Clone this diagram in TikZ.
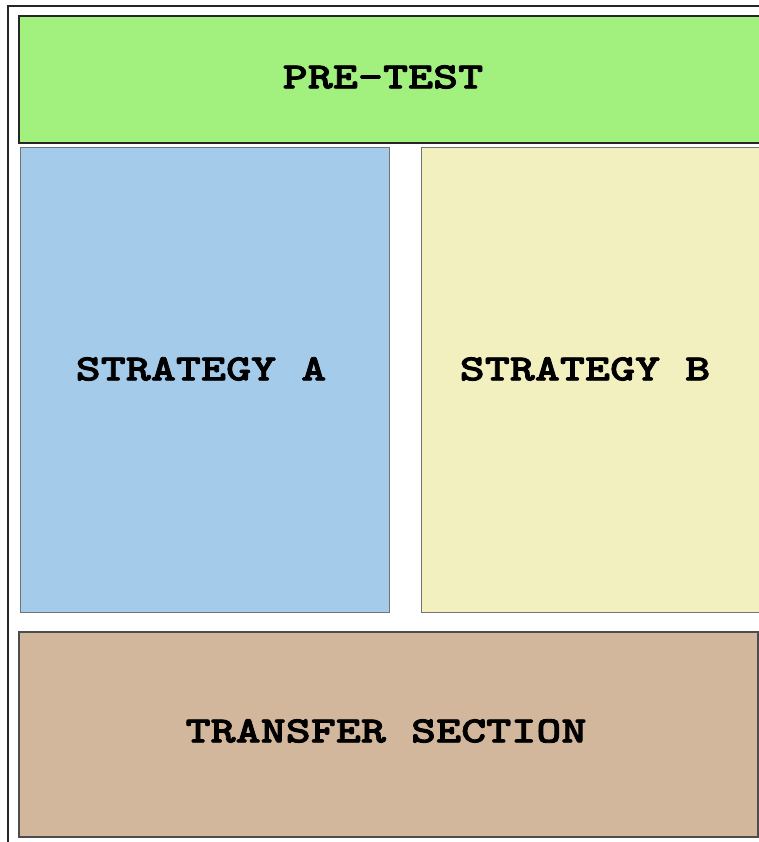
\documentclass[tikz,border=0pt]{standalone}
\usepackage{fontspec}
\newfontfamily\courb{lmmonolt10-bold.otf}[FakeStretch=1.29,FakeBold=2.2]
\definecolor{pregreen}{HTML}{A2F07E}
\definecolor{stratblue}{HTML}{A5CBEB}
\definecolor{stratyellow}{HTML}{F3F0C0}
\definecolor{transbrown}{HTML}{D3B79C}
\begin{document}
\begin{tikzpicture}[x=1pt,y=-1pt,
  panel/.style={draw, line width=1.2pt, inner sep=0pt, outer sep=0pt},
  label/.style={font=\courb\fontsize{37}{37}\selectfont, inner sep=0pt, anchor=center}]
\useasboundingbox (0,0) rectangle (759,842);
\clip (0,0) rectangle (759,842);
\fill[white] (0,0) rectangle (759,842);
% outer frame
\draw[line width=1.3pt, black!85] (8,850) -- (8,6) -- (780,6);
% panels
\draw[panel, fill=pregreen, draw=black!85] (19,16) rectangle (775,143);
\draw[panel, fill=stratblue, draw=black!55, line width=1pt] (20,148) rectangle (389,612);
\draw[panel, fill=stratyellow, draw=black!55, line width=1pt] (421,148) rectangle (775,612);
\draw[panel, fill=transbrown, draw=black!70] (19,632) rectangle (758,837);
% labels
\node[label] (pre) at (383,77) {PRE-TEST};
\node[label] (sa) at (201,369) {STRATEGY A};
\node[label] (sb) at (585,369) {STRATEGY B};
\node[label] (tr) at (386,731) {TRANSFER SECTION};
\end{tikzpicture}
\end{document}
